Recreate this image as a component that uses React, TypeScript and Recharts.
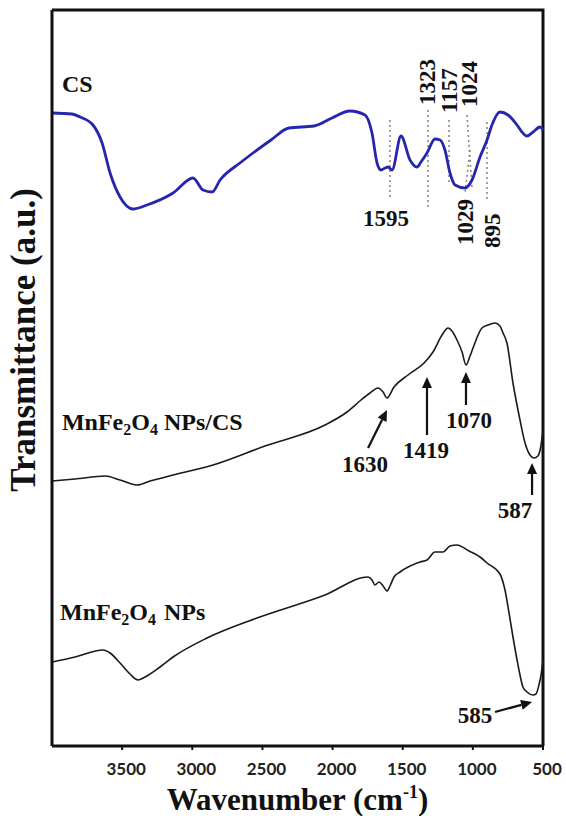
import React from 'react';
import {
  LineChart,
  Line,
  XAxis,
  YAxis,
  ReferenceLine,
  ReferenceDot,
} from 'recharts';

// CS spectrum (blue, top)
const csWn = [4000, 3857, 3800, 3708, 3643, 3586, 3515, 3422, 3323, 3137, 2995, 2924, 2859, 2802, 2660, 2567, 2439, 2311, 2132, 2004, 1876, 1769, 1719, 1683, 1655, 1626, 1605, 1576, 1512, 1448, 1398, 1370, 1327, 1270, 1234, 1199, 1163, 1127, 1056, 1006, 949, 899, 864, 807, 749, 685, 650, 614, 571, 521, 500];
const csT = [633, 632, 629, 621, 603, 573, 549, 537, 541, 553, 568, 556, 554, 566, 583, 593, 606, 618, 620, 628, 635, 631, 613, 583, 576, 578, 579, 576, 610, 586, 579, 584, 593, 607, 606, 596, 573, 561, 558, 566, 589, 606, 621, 634, 631, 621, 614, 610, 614, 619, 616];

// MnFe2O4 NPs/CS spectrum (middle)
const compWn = [4000, 3836, 3622, 3515, 3394, 3301, 3216, 3137, 2852, 2482, 2054, 1897, 1797, 1733, 1676, 1640, 1612, 1562, 1462, 1348, 1284, 1220, 1177, 1149, 1113, 1077, 1049, 1020, 999, 935, 892, 842, 807, 785, 757, 714, 664, 628, 593, 564, 536, 514, 500];
const compT = [265, 267, 270, 266, 261, 265, 268, 271, 281, 300, 321, 334, 346, 353, 358, 354, 348, 359, 371, 383, 394, 411, 418, 415, 406, 394, 381, 390, 398, 418, 421, 423, 420, 413, 403, 363, 326, 303, 291, 288, 290, 301, 316];

// MnFe2O4 NPs spectrum (bottom)
const npsWn = [4000, 3836, 3636, 3586, 3515, 3444, 3387, 3337, 3230, 3137, 2895, 2539, 2054, 1747, 1719, 1698, 1669, 1640, 1612, 1591, 1562, 1519, 1377, 1327, 1270, 1213, 1163, 1113, 1027, 949, 899, 807, 771, 742, 714, 685, 664, 643, 614, 571, 550, 529, 514, 500];
const npsT = [84, 89, 96, 93, 83, 72, 66, 69, 79, 89, 108, 128, 151, 169, 166, 161, 164, 160, 155, 160, 169, 174, 184, 186, 194, 194, 200, 201, 195, 189, 183, 172, 156, 133, 109, 86, 71, 59, 54, 51, 52, 61, 71, 86];

const xTicks = [3500, 3000, 2500, 2000, 1500, 1000, 500];

// top-left -> top-right -> bottom-right corners of the box
const frameWn = [4000, 500, 500];
const frameT = [736, 736, 0];

// dotted guide lines on the CS curve: [wn top, t top, wn bottom, t bottom]
const csGuides = [
  [1591, 626, 1591, 546],
  [1320, 636, 1320, 536],
  [1170, 626, 1170, 561],
  [1042, 631, 1006, 558],
  [1020, 596, 1056, 553],
  [899, 624, 899, 546],
];

// peak numbers
const peakLabels = [
  { text: '1595', wn: 1619, t: 520, vertical: false },
  { text: '1323', wn: 1270, t: 641, vertical: true },
  { text: '1157', wn: 1113, t: 633, vertical: true },
  { text: '1024', wn: 970, t: 639, vertical: true },
  { text: '1029', wn: 999, t: 501, vertical: true },
  { text: '895', wn: 807, t: 498, vertical: true },
  { text: '1630', wn: 1769, t: 274, vertical: false },
  { text: '1419', wn: 1334, t: 288, vertical: false },
  { text: '1070', wn: 1027, t: 318, vertical: false },
  { text: '587', wn: 700, t: 228, vertical: false },
  { text: '585', wn: 985, t: 23, vertical: false },
];

// arrows: [tail wn, tail t, tip wn, tip t]
const arrows = [
  [1747, 298, 1612, 336],
  [1327, 311, 1327, 369],
  [1049, 341, 1049, 374],
  [578, 251, 578, 283],
  [842, 34, 578, 44],
];

const sampleLabels = [
  { name: 'CS', wn: 3929, t: 654 },
  { name: 'composite', wn: 3929, t: 316 },
  { name: 'nps', wn: 3943, t: 126 },
];

const toRows = (wn: number[], t: number[]) => wn.map((w, i) => ({ wn: w, t: t[i] }));

const serif = '"Liberation Serif", "Times New Roman", serif';

const XTick = (props: any) => {
  const { x, y, payload } = props;
  return (
    <text
      x={x + 4}
      y={y + 23}
      textAnchor="middle"
      fontFamily="Lato, sans-serif"
      fontWeight="bold"
      fontSize={17}
      fill="#222"
    >
      {payload.value}
    </text>
  );
};

const Arrow = (props: any) => {
  const { x1, y1, x2, y2 } = props;
  const ang = Math.atan2(y2 - y1, x2 - x1);
  const len = 11;
  const half = 5;
  const bx = x2 - len * Math.cos(ang);
  const by = y2 - len * Math.sin(ang);
  const p1 = `${bx + half * Math.sin(ang)},${by - half * Math.cos(ang)}`;
  const p2 = `${bx - half * Math.sin(ang)},${by + half * Math.cos(ang)}`;
  return (
    <g>
      <line x1={x1} y1={y1} x2={bx} y2={by} stroke="#111" strokeWidth={2.2} />
      <polygon points={`${x2},${y2} ${p1} ${p2}`} fill="#111" />
    </g>
  );
};

const PeakText = (label: { text: string; vertical: boolean }) => (props: any) => {
  const { cx, cy } = props;
  return (
    <text
      x={cx}
      y={cy}
      textAnchor={label.vertical ? 'start' : 'middle'}
      transform={label.vertical ? `rotate(-90 ${cx} ${cy})` : undefined}
      fontFamily={serif}
      fontWeight="bold"
      fontSize={23}
      fill="#111"
    >
      {label.text}
    </text>
  );
};

const SampleText = (name: string) => (props: any) => {
  const { cx, cy } = props;
  const common = { fontFamily: serif, fontWeight: 'bold' as const, fontSize: 24, fill: '#111' };
  if (name === 'CS') {
    return (
      <text x={cx} y={cy} {...common}>
        CS
      </text>
    );
  }
  return (
    <text x={cx} y={cy} {...common}>
      MnFe
      <tspan fontSize={16} dy={5}>2</tspan>
      <tspan dy={-5}>O</tspan>
      <tspan fontSize={16} dy={5}>4</tspan>
      <tspan dy={-5} dx={name === 'nps' ? 8 : 6}>
        {name === 'nps' ? 'NPs' : 'NPs/CS'}
      </tspan>
    </text>
  );
};

const XTitle = (props: any) => {
  const { viewBox } = props;
  const cx = viewBox.x + viewBox.width / 2;
  return (
    <text x={cx} y={viewBox.y + 64} textAnchor="middle" fontFamily={serif} fontWeight="bold" fontSize={31} fill="#111">
      Wavenumber (cm
      <tspan fontSize={18} dy={-12}>-1</tspan>
      <tspan dy={12}>)</tspan>
    </text>
  );
};

const YTitle = () => (
  <text
    x={35}
    y={340}
    textAnchor="middle"
    transform="rotate(-90 35 340)"
    fontFamily={serif}
    fontWeight="bold"
    fontSize={35}
    fill="#111"
  >
    Transmittance (a.u.)
  </text>
);

export default function App() {
  return (
    <div style={{ width: 566, height: 816, background: '#fff' }}>
      <style>{'body{margin:0;overflow:hidden}'}</style>
      <LineChart width={566} height={816} margin={{ top: 10, right: 23, bottom: 0, left: 0 }}>
        <XAxis
          type="number"
          dataKey="wn"
          domain={[500, 4000]}
          reversed
          ticks={xTicks}
          interval={0}
          height={70}
          tickSize={4}
          tickMargin={2}
          tick={<XTick />}
          tickLine={{ stroke: '#111', strokeWidth: 2 }}
          axisLine={{ stroke: '#111', strokeWidth: 3 }}
          label={{ content: <XTitle /> }}
        />
        <YAxis
          type="number"
          domain={[0, 736]}
          width={52}
          tick={false}
          tickLine={false}
          axisLine={{ stroke: '#111', strokeWidth: 3 }}
          label={{ content: <YTitle /> }}
        />

        {/* top and right edges of the box */}
        <Line
          data={toRows(frameWn, frameT)}
          dataKey="t"
          type="linear"
          stroke="#111"
          strokeWidth={3}
          dot={false}
          activeDot={false}
          isAnimationActive={false}
        />

        {csGuides.map((g, i) => (
          <ReferenceLine
            key={`g${i}`}
            segment={[{ x: g[0], y: g[1] }, { x: g[2], y: g[3] }]}
            stroke="#888"
            strokeWidth={1.6}
            strokeDasharray="2 3"
            ifOverflow="visible"
          />
        ))}

        <Line data={toRows(csWn, csT)} dataKey="t" type="monotone" stroke="#2426ad" strokeWidth={2.8} dot={false} isAnimationActive={false} />
        <Line data={toRows(compWn, compT)} dataKey="t" type="monotone" stroke="#1a1a1a" strokeWidth={1.6} dot={false} isAnimationActive={false} />
        <Line data={toRows(npsWn, npsT)} dataKey="t" type="monotone" stroke="#1a1a1a" strokeWidth={1.6} dot={false} isAnimationActive={false} />

        {arrows.map((a, i) => (
          <ReferenceLine
            key={`a${i}`}
            segment={[{ x: a[0], y: a[1] }, { x: a[2], y: a[3] }]}
            shape={Arrow}
            ifOverflow="visible"
          />
        ))}

        {peakLabels.map((l) => (
          <ReferenceDot key={l.text} x={l.wn} y={l.t} r={0} ifOverflow="visible" shape={PeakText(l)} />
        ))}
        {sampleLabels.map((s) => (
          <ReferenceDot key={s.name} x={s.wn} y={s.t} r={0} ifOverflow="visible" shape={SampleText(s.name)} />
        ))}
      </LineChart>
    </div>
  );
}
